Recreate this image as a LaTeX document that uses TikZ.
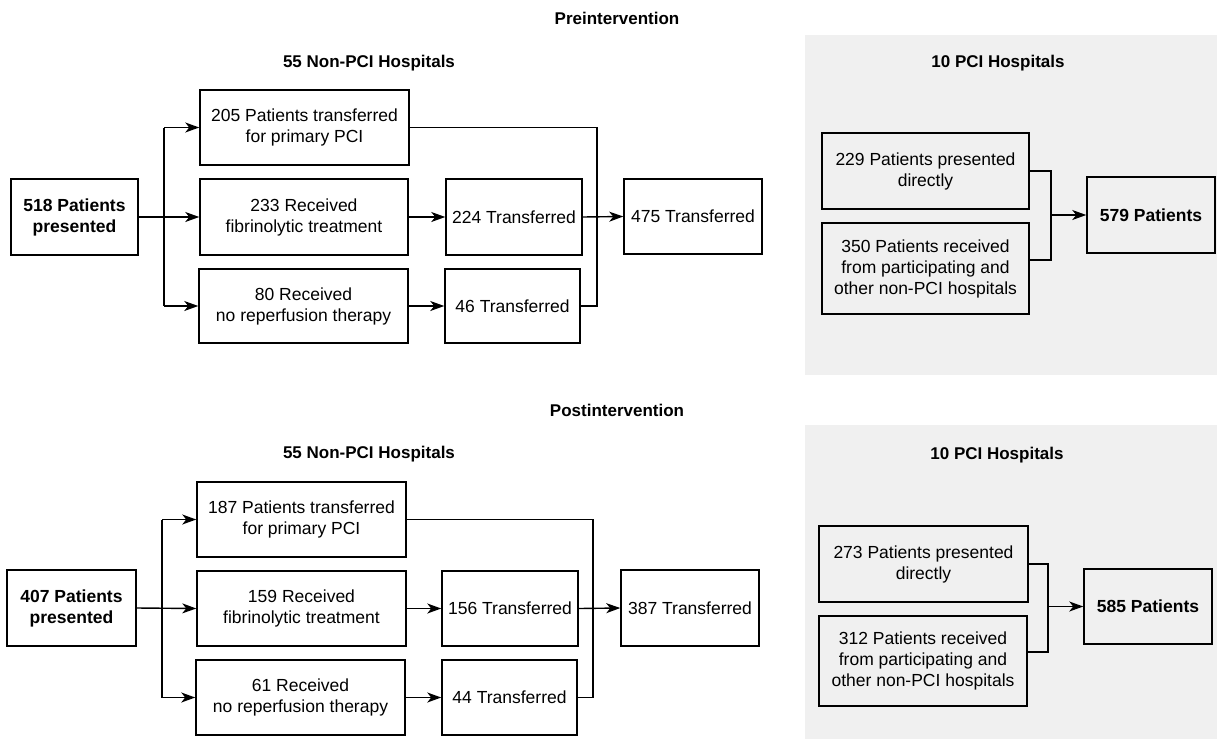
\documentclass[tikz,border=0pt]{standalone}
\usepackage{fontspec}
\setmainfont{Liberation Sans}
\usetikzlibrary{arrows.meta,calc}
\tikzset{
  boxn/.style={draw=black, line width=1.5pt, align=center, inner sep=0pt,
    font=\fontsize{17.5}{21}\selectfont},
  boldn/.style={boxn, font=\fontsize{17.5}{21}\selectfont\bfseries},
  head/.style={font=\fontsize{17}{20}\selectfont\bfseries, inner sep=0pt},
  conn/.style={line width=1.4pt},
  arr/.style={conn, -{Stealth[length=14pt,width=10pt,inset=4pt]}},
  panel/.style={fill=black!6, draw=none}
}
\begin{document}
\begin{tikzpicture}[x=1pt,y=-1pt]
\useasboundingbox (0,0) rectangle (1217,739);
\fill[white] (0,0) rectangle (1217,739);
\fill[panel] (805,35) rectangle (1217,375);
\fill[panel] (805,425) rectangle (1217,739);

% ---------- Preintervention ----------
\node[head] (hpre) at (617,18) {Preintervention};
\node[head] (hnon1) at (369,63) {55 Non-PCI Hospitals};
\node[head] (hpci1) at (998,63) {10 PCI Hospitals};

\node[boldn, minimum width=127pt, minimum height=76pt] (p518) at (74.5,217) {518 Patients\\presented};
\node[boxn, minimum width=209pt, minimum height=75pt] (t205) at (304.5,127.5) {205 Patients transferred\\for primary PCI};
\node[boxn, minimum width=208pt, minimum height=76pt] (f233) at (304,217) {233 Received\\fibrinolytic treatment};
\node[boxn, minimum width=209pt, minimum height=74pt] (n80) at (303.5,306) {80 Received\\no reperfusion therapy};
\node[boxn, minimum width=136pt, minimum height=76pt] (t224) at (514,217) {224 Transferred};
\node[boxn, minimum width=135pt, minimum height=74pt] (t46) at (512.5,306) {46 Transferred};
\node[boxn, minimum width=138pt, minimum height=75pt] (t475) at (693,216.5) {475 Transferred};

\node[boxn, minimum width=207pt, minimum height=76pt] (d229) at (925.5,171) {229 Patients presented\\directly};
\node[boxn, minimum width=207pt, minimum height=91pt] (r350) at (925.5,268.5) {350 Patients received\\from participating and\\other non-PCI hospitals};
\node[boldn, minimum width=128pt, minimum height=76pt] (p579) at (1151,215) {579 Patients};

\coordinate (bx1) at (164,0);
\coordinate (mx1) at (597,0);
\coordinate (rx1) at (1051,0);
\coordinate (rb1) at (1029,260);

\draw[arr] (p518.east) -- (f233.west);
\draw[conn] (bx1 |- t205.west) -- (bx1 |- n80.west);
\draw[arr] (bx1 |- t205.west) -- (t205.west);
\draw[arr] (bx1 |- n80.west) -- (n80.west);
\draw[arr] (f233.east) -- (t224.west);
\draw[arr] (n80.east) -- (t46.west);
\draw[conn] (t205.east) -| (mx1 |- t46.east) -- (t46.east);
\draw[arr] (t224.east) -- (t475.west);
\draw[conn] (d229.east) -| (rx1 |- rb1) -- (rb1);
\draw[arr] (rx1 |- p579.west) -- (p579.west);

% ---------- Postintervention ----------
\node[head] (hpost) at (617,410) {Postintervention};
\node[head] (hnon2) at (369,454) {55 Non-PCI Hospitals};
\node[head] (hpci2) at (997,455) {10 PCI Hospitals};

\node[boldn, minimum width=129pt, minimum height=76pt] (p407) at (71.5,608) {407 Patients\\presented};
\node[boxn, minimum width=209pt, minimum height=75pt] (t187) at (301.5,519.5) {187 Patients transferred\\for primary PCI};
\node[boxn, minimum width=209pt, minimum height=75pt] (f159) at (301.5,608.5) {159 Received\\fibrinolytic treatment};
\node[boxn, minimum width=209pt, minimum height=75pt] (n61) at (300.5,697.5) {61 Received\\no reperfusion therapy};
\node[boxn, minimum width=136pt, minimum height=75pt] (t156) at (510,608.5) {156 Transferred};
\node[boxn, minimum width=135pt, minimum height=75pt] (t44) at (509.5,697.5) {44 Transferred};
\node[boxn, minimum width=138pt, minimum height=76pt] (t387) at (690,608) {387 Transferred};

\node[boxn, minimum width=209pt, minimum height=76pt] (d273) at (923.5,564) {273 Patients presented\\directly};
\node[boxn, minimum width=208pt, minimum height=90pt] (r312) at (923,661) {312 Patients received\\from participating and\\other non-PCI hospitals};
\node[boldn, minimum width=128pt, minimum height=75pt] (p585) at (1148,606.5) {585 Patients};

\coordinate (bx2) at (162,0);
\coordinate (mx2) at (593,0);
\coordinate (rx2) at (1048,0);
\coordinate (rb2) at (1027,652);

\draw[arr] (p407.east) -- (f159.west);
\draw[conn] (bx2 |- t187.west) -- (bx2 |- n61.west);
\draw[arr] (bx2 |- t187.west) -- (t187.west);
\draw[arr] (bx2 |- n61.west) -- (n61.west);
\draw[arr] (f159.east) -- (t156.west);
\draw[arr] (n61.east) -- (t44.west);
\draw[conn] (t187.east) -| (mx2 |- t44.east) -- (t44.east);
\draw[arr] (t156.east) -- (t387.west);
\draw[conn] (d273.east) -| (rx2 |- rb2) -- (rb2);
\draw[arr] (rx2 |- p585.west) -- (p585.west);
\end{tikzpicture}
\end{document}
